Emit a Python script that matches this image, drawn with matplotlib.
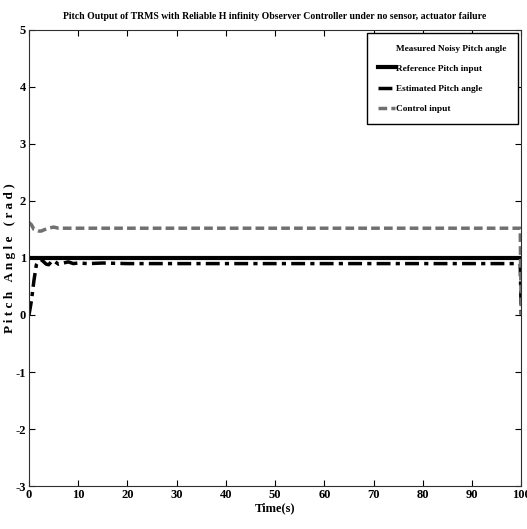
"""Pitch output of TRMS under reliable H-infinity observer controller."""

import matplotlib
matplotlib.use("Agg")
import matplotlib.pyplot as plt

# reference pitch input (rad)
t_ref = [0, 100]
y_ref = [1.0, 1.0]

# estimated pitch angle (rad)
t_est = [0, 0.5, 1.0, 1.5, 2.0, 2.5, 3.0, 3.5, 4.0, 4.5, 5.0, 5.5, 6.0,
         7.0, 8.0, 9.0, 10.0, 12.0, 15.0, 20.0, 99.8, 100.0]
y_est = [0.0, 0.25, 0.6, 0.88, 0.95, 0.97, 0.93, 0.89, 0.88, 0.93, 0.95,
         0.92, 0.89, 0.91, 0.93, 0.9, 0.91, 0.9, 0.91, 0.9, 0.9, 0.0]

# control input
t_ctl = [0, 0.5, 1.0, 2.0, 2.5, 3.0, 4.0, 5.0, 6.0, 8.0, 99.8, 100.0]
y_ctl = [1.62, 1.58, 1.5, 1.47, 1.47, 1.49, 1.52, 1.54, 1.52, 1.52, 1.52, 0.0]

xticks = [0, 10, 20, 30, 40, 50, 60, 70, 80, 90, 100]
yticks = [-3, -2, -1, 0, 1, 2, 3, 4, 5]

plt.rcParams["font.family"] = ["Liberation Serif", "DejaVu Serif"]
plt.rcParams["font.weight"] = "bold"
plt.rcParams["axes.unicode_minus"] = False  # plain hyphen like the original

fig = plt.figure(figsize=(5.27, 5.29), dpi=100)
ax = fig.add_axes([0.055, 0.081, 0.934, 0.863])

# invisible entry so the legend carries the "measured" label like the original
ax.plot([], [], color="white", lw=2, label="Measured Noisy Pitch angle")
ax.plot(t_ref, y_ref, color="black", lw=3, label="Reference Pitch input")
ax.plot(t_est, y_est, color="black", lw=2.5, ls=(0, (4, 1.5, 1.2, 1.5)),
        label="Estimated Pitch angle")
ax.plot(t_ctl, y_ctl, color="#707070", lw=2.5, ls=(0, (2.5, 1.2)),
        label="Control input")

ax.set_xlim(0, 100)
ax.set_ylim(-3, 5)
ax.set_xticks(xticks)
ax.set_yticks(yticks)
ax.tick_params(direction="in", top=True, right=True, length=4, labelsize=9,
               pad=2)
for lab in ax.get_xticklabels() + ax.get_yticklabels():
    lab.set_fontweight("bold")
for sp in ax.spines.values():
    sp.set_color("#303030")

ax.set_title("Pitch Output of TRMS with Reliable H infinity Observer Controller "
             "under no sensor, actuator failure", fontsize=7.0,
             fontweight="bold", pad=8)
ax.set_xlabel("Time(s)", fontsize=9, fontweight="bold", labelpad=1)
ax.set_ylabel("P i t c h   A n g l e   ( r a d )", fontsize=9.5,
              fontweight="bold", labelpad=0)

leg = ax.legend(loc="upper right", fontsize=6.7, handlelength=1.8,
                handletextpad=0.2, borderpad=1.2, labelspacing=1.25,
                fancybox=False, framealpha=1, edgecolor="black",
                borderaxespad=0.35)
leg.get_frame().set_linewidth(1.0)
for txt in leg.get_texts():
    txt.set_fontweight("bold")

fig.savefig("out.png", dpi=100)
